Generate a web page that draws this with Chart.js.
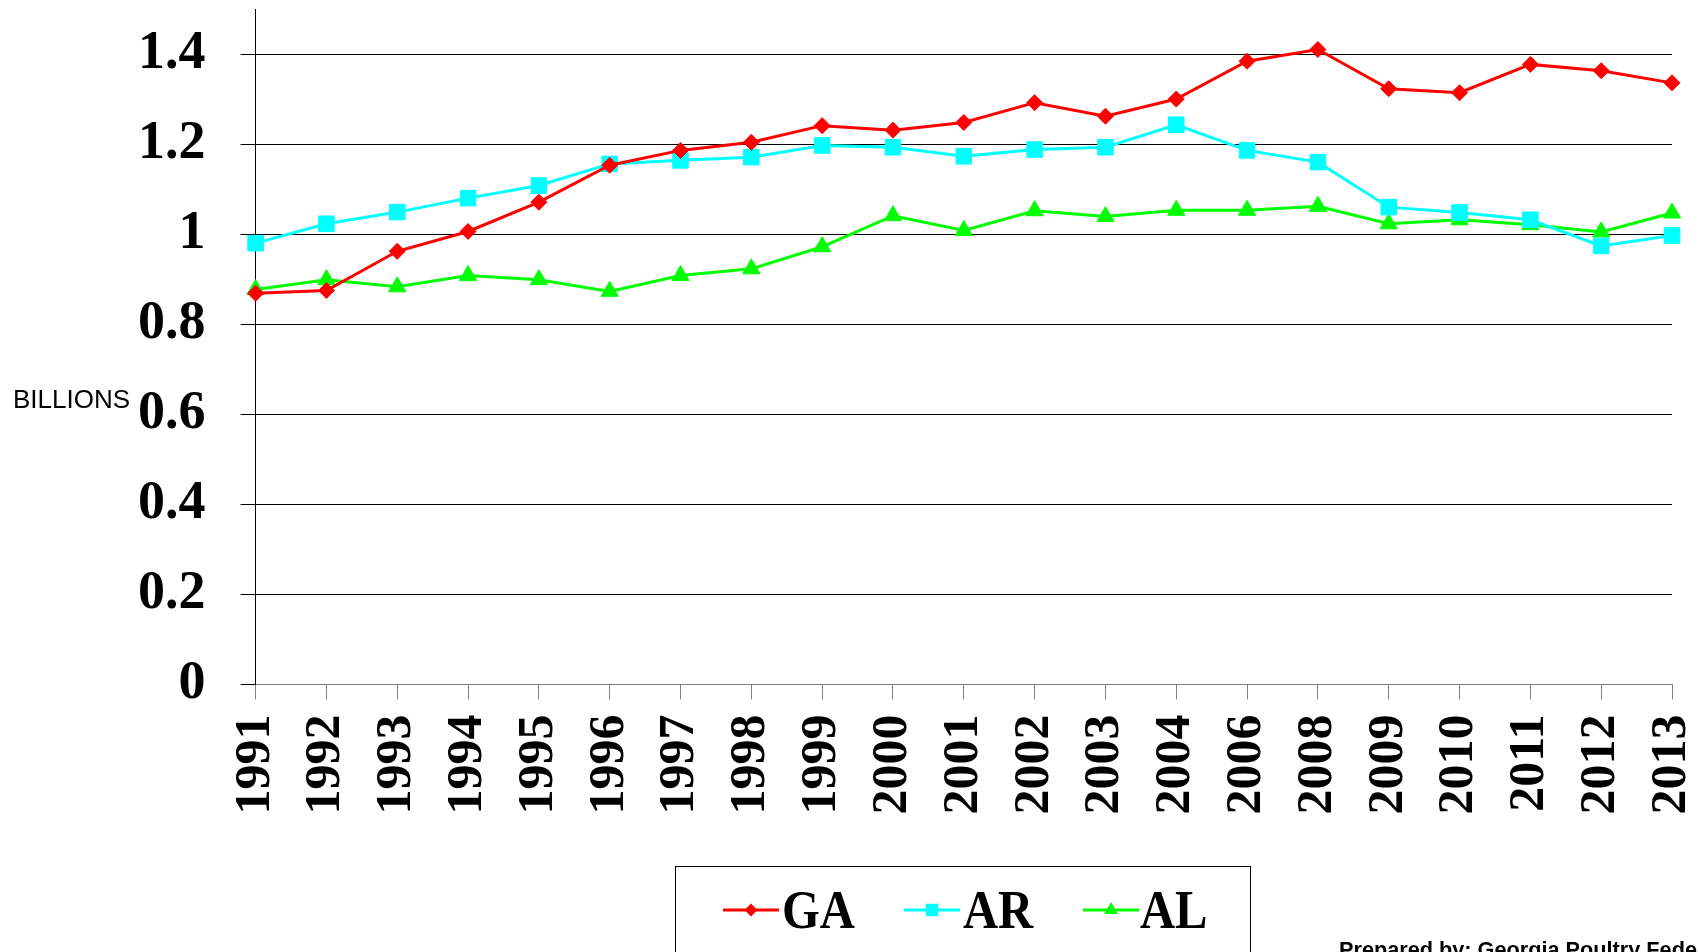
<!DOCTYPE html>
<html>
<head>
<meta charset="utf-8">
<title>Broilers - GA / AR / AL</title>
<script src="https://cdn.jsdelivr.net/npm/chart.js@4.4.0/dist/chart.umd.min.js"></script>
<style>
    html, body { margin:0; padding:0; background:#fff; overflow:hidden; }
    #wrap { position:relative; width:1698px; height:952px; overflow:hidden; }
    #chart { position:absolute; left:0; top:0; }
    .units { position:absolute; left:13px; top:386px; font:26px/26px "Liberation Sans", Arial, sans-serif; color:#000; }
    .credit { position:absolute; left:1339px; top:939px; white-space:nowrap; font:bold 21.7px/21px "Liberation Sans", Arial, sans-serif; color:#000; }
    #legend { position:absolute; left:675px; top:866px; width:576px; height:200px; border:1px solid #000; box-sizing:border-box; background:#fff; }
    .lg-mark { position:absolute; }
    .lg-text { position:absolute; font:bold 54px/54px "Liberation Serif", "Times New Roman", serif; color:#000; transform:scaleX(0.9); transform-origin:left top; }
</style>
</head>
<body>
<div id="wrap">
    <canvas id="chart" width="1698" height="952"></canvas>
    <div class="units">BILLIONS</div>
    <div id="legend"></div>
    <div class="credit">Prepared by: Georgia Poultry Federation</div>
</div>
<script>
/* data, billions */
const years  = ['1991','1992','1993','1994','1995','1996','1997','1998','1999','2000','2001','2002','2003','2004','2006','2008','2009','2010','2011','2012','2013'];
const gaData = [0.869,0.875,0.962,1.006,1.071,1.153,1.186,1.204,1.241,1.231,1.248,1.292,1.262,1.300,1.384,1.410,1.323,1.314,1.377,1.363,1.336];
const arData = [0.980,1.023,1.049,1.080,1.108,1.156,1.164,1.171,1.197,1.193,1.173,1.188,1.193,1.243,1.186,1.160,1.060,1.048,1.032,0.974,0.997];
const alData = [0.877,0.899,0.883,0.908,0.899,0.873,0.908,0.923,0.972,1.041,1.008,1.052,1.039,1.053,1.053,1.062,1.023,1.032,1.021,1.005,1.047];
const yTicks = [0, 0.2, 0.4, 0.6, 0.8, 1, 1.2, 1.4];

const SERIES = [
    { label:'GA', data:gaData, color:'#FF0000', style:'rectRot',  r:8  },
    { label:'AR', data:arData, color:'#00FFFF', style:'rect',     r:11 },
    { label:'AL', data:alData, color:'#00FF00', style:'triangle', r:10 },
];

const SERIF = '"Liberation Serif", "Times New Roman", serif';

new Chart(document.getElementById('chart').getContext('2d'), {
    type: 'line',
    data: {
        labels: years,
        datasets: SERIES.map(s => ({
            label: s.label, data: s.data,
            borderColor: s.color, backgroundColor: s.color,
            borderWidth: 3, tension: 0, fill: false, clip: false,
            pointStyle: s.style, pointRadius: s.r, pointHoverRadius: s.r,
            pointBackgroundColor: s.color, pointBorderColor: s.color, pointBorderWidth: 1
        }))
    },
    options: {
        responsive: false,
        animation: false,
        layout: { autoPadding: false, padding: { top: 9, right: 26, left: 0, bottom: 0 } },
        plugins: { legend: { display:false }, tooltip: { enabled:false } },
        scales: {
            x: {
                offset: false,
                grid: { display:true, drawOnChartArea:false, drawTicks:true, tickLength:15, color:'#808080', lineWidth:1 },
                border: { display:true, color:'#808080', width:1 },
                ticks: { autoSkip:false, minRotation:90, maxRotation:90, padding:15, color:'#000', font:{ family:SERIF, size:50, weight:'bold' } },
                afterFit: s => { s.height = 267.5; s.paddingLeft = 0; s.paddingRight = 0; }
            },
            y: {
                min: 0, max: 1.5,
                afterBuildTicks: s => { s.ticks = yTicks.map(v => ({ value:v })); },
                grid: { color:'#000', lineWidth:1, tickLength:15, drawTicks:true },
                border: { display:true, color:'#000', width:1 },
                ticks: { padding:35, color:'#000', font:{ family:SERIF, size:54, weight:'bold' },
                         callback: v => String(Number(v.toFixed(1))) },
                afterFit: s => { s.width = 255.6; s.paddingTop = 0; s.paddingBottom = 0; }
            }
        }
    }
});

/* ── legend (html) ── */
const legend = document.getElementById('legend');
const lgPos = [ { mark:723, text:782 }, { mark:904, text:963 }, { mark:1083, text:1140 } ];

function drawMarker(ctx, style, x, y, r) {
    ctx.beginPath();
    if (style === 'rectRot') {
        ctx.moveTo(x, y - r); ctx.lineTo(x + r, y); ctx.lineTo(x, y + r); ctx.lineTo(x - r, y);
    } else if (style === 'rect') {
        const h = r * Math.SQRT1_2;
        ctx.rect(x - h, y - h, 2 * h, 2 * h);
    } else {
        ctx.moveTo(x, y - r);
        ctx.lineTo(x + r * Math.sin(2 * Math.PI / 3), y - r * Math.cos(2 * Math.PI / 3));
        ctx.lineTo(x + r * Math.sin(4 * Math.PI / 3), y - r * Math.cos(4 * Math.PI / 3));
    }
    ctx.closePath();
    ctx.fill();
}

SERIES.forEach((s, i) => {
    const c = document.createElement('canvas');
    c.width = 56; c.height = 30;
    c.className = 'lg-mark';
    c.style.left = (lgPos[i].mark - 676) + 'px';
    c.style.top  = (910 - 15 - 867) + 'px';
    const g = c.getContext('2d');
    g.strokeStyle = s.color; g.fillStyle = s.color; g.lineWidth = 3;
    g.beginPath(); g.moveTo(0, 15); g.lineTo(56, 15); g.stroke();
    drawMarker(g, s.style, 28, 15, s.r * 0.8);
    legend.appendChild(c);

    const t = document.createElement('div');
    t.className = 'lg-text';
    t.textContent = s.label;
    t.style.left = (lgPos[i].text - 676) + 'px';
    t.style.top  = (883 - 867) + 'px';
    legend.appendChild(t);
});
</script>
</body>
</html>
